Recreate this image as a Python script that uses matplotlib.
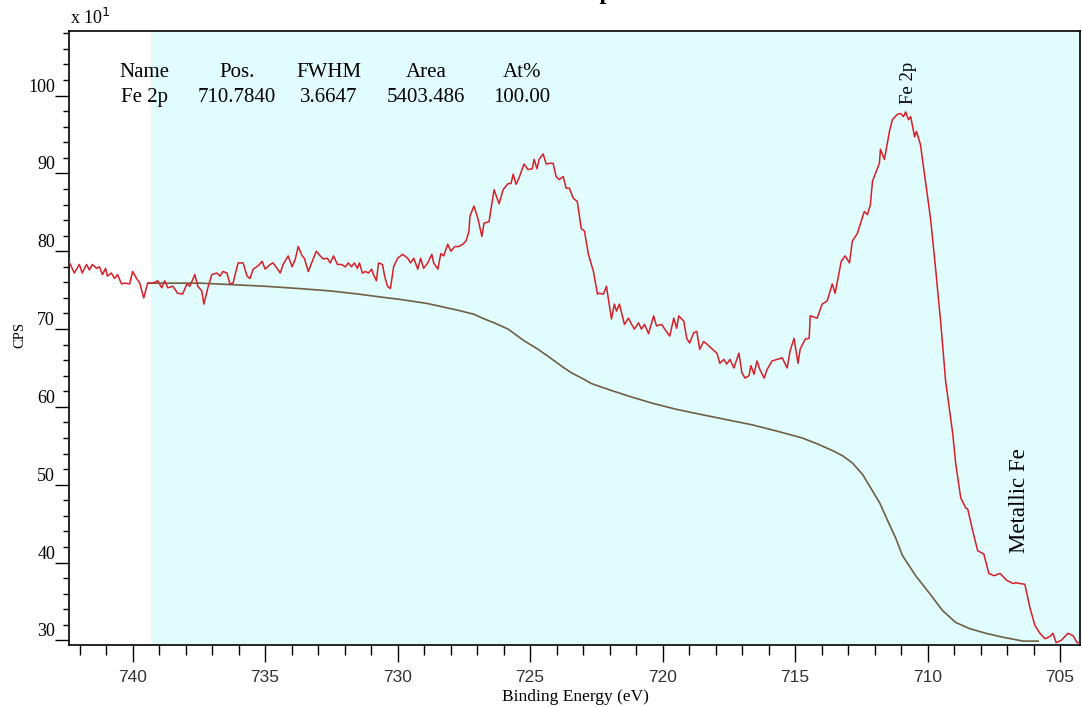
import numpy as np
import matplotlib
matplotlib.use("Agg")
import matplotlib.pyplot as plt
from matplotlib.ticker import MultipleLocator

plt.rcParams['font.family'] = ['Liberation Serif', 'DejaVu Serif']

# Fe 2p spectrum (binding energy in eV, counts in units of 10 CPS)
be = [742.39, 742.20, 742.01, 741.90, 741.74, 741.63, 741.52, 741.36, 741.25, 741.14,
      741.02, 740.95, 740.80, 740.68, 740.57, 740.42, 740.30, 740.11, 740.00, 739.85,
      739.73, 739.58, 739.43, 739.24, 739.05, 738.90, 738.79, 738.67, 738.48, 738.30,
      738.11, 737.95, 737.84, 737.65, 737.54, 737.39, 737.31, 737.16, 737.01, 736.82,
      736.70, 736.59, 736.44, 736.33, 736.21, 736.02, 735.83, 735.68, 735.57, 735.45,
      735.27, 735.11, 735.00, 734.81, 734.70, 734.55, 734.43, 734.32, 734.13, 733.98,
      733.86, 733.75, 733.60, 733.52, 733.37, 733.22, 733.07, 732.92, 732.80, 732.65,
      732.54, 732.42, 732.27, 732.12, 731.97, 731.86, 731.74, 731.63, 731.52, 731.44,
      731.33, 731.21, 731.10, 730.98, 730.91, 730.80, 730.72, 730.57, 730.49, 730.38,
      730.27, 730.15, 730.00, 729.81, 729.62, 729.51, 729.39, 729.24, 729.13, 729.02,
      728.86, 728.71, 728.64, 728.48, 728.37, 728.26, 728.11, 727.99, 727.84, 727.69,
      727.54, 727.42, 727.31, 727.27, 727.12, 726.97, 726.82, 726.74, 726.55, 726.36,
      726.17, 726.02, 725.83, 725.72, 725.64, 725.53, 725.42, 725.23, 725.08, 724.92,
      724.85, 724.74, 724.66, 724.51, 724.39, 724.28, 724.13, 724.02, 723.90, 723.75,
      723.64, 723.52, 723.37, 723.22, 723.07, 722.95, 722.80, 722.61, 722.46, 722.42,
      722.23, 722.12, 721.93, 721.82, 721.74, 721.63, 721.44, 721.29, 721.17, 721.06,
      720.91, 720.80, 720.68, 720.53, 720.34, 720.23, 720.04, 719.92, 719.73, 719.58,
      719.47, 719.39, 719.20, 719.09, 718.98, 718.83, 718.71, 718.60, 718.45, 718.34,
      718.15, 717.95, 717.84, 717.69, 717.58, 717.46, 717.31, 717.12, 717.01, 716.89,
      716.74, 716.67, 716.55, 716.44, 716.33, 716.17, 716.06, 715.87, 715.68, 715.49,
      715.30, 715.19, 715.04, 714.89, 714.81, 714.62, 714.47, 714.43, 714.17, 713.98,
      713.79, 713.60, 713.49, 713.26, 713.11, 712.95, 712.84, 712.65, 712.39, 712.27,
      712.16, 712.08, 711.82, 711.78, 711.63, 711.44, 711.33, 711.14, 711.02, 710.91,
      710.83, 710.72, 710.64, 710.49, 710.42, 710.27, 710.08, 709.89, 709.70, 709.51,
      709.32, 709.05, 708.94, 708.75, 708.56, 708.49, 708.30, 708.11, 707.88, 707.69,
      707.50, 707.27, 707.01, 706.78, 706.67, 706.52, 706.33, 706.14, 705.95, 705.76,
      705.57, 705.38, 705.27, 705.15, 704.96, 704.70, 704.51, 704.36, 704.24]
cps = [78.6, 77.2, 78.3, 77.2, 78.3, 77.6, 78.3, 77.8, 78.0, 77.0,
       77.8, 76.8, 77.2, 76.5, 77.0, 75.8, 75.9, 75.8, 77.4, 76.5,
       75.9, 74.0, 75.9, 75.9, 76.2, 75.3, 76.2, 75.3, 75.5, 74.6,
       74.5, 75.8, 75.5, 77.0, 75.5, 74.9, 73.2, 75.3, 77.0, 77.2,
       76.8, 77.4, 77.2, 75.8, 75.9, 78.5, 78.5, 76.8, 76.5, 77.7,
       78.1, 78.7, 77.7, 78.3, 78.5, 77.8, 77.2, 78.3, 79.4, 78.0,
       79.0, 80.6, 79.4, 79.1, 77.4, 78.7, 80.0, 79.4, 79.0, 79.1,
       78.5, 79.4, 78.3, 78.3, 78.0, 78.5, 78.0, 78.5, 77.8, 78.5,
       77.2, 77.4, 77.2, 77.7, 77.0, 76.2, 78.5, 78.3, 76.8, 75.5,
       75.2, 78.0, 79.1, 79.6, 79.1, 78.5, 79.1, 77.7, 79.1, 77.8,
       78.5, 79.6, 78.5, 77.7, 79.7, 79.4, 80.9, 80.0, 80.6, 80.6,
       80.9, 81.3, 82.5, 84.5, 85.8, 84.2, 81.9, 83.6, 83.8, 87.9,
       86.1, 87.9, 88.7, 88.7, 89.9, 88.6, 89.4, 91.2, 90.5, 90.6,
       91.8, 90.6, 91.8, 92.5, 91.2, 91.3, 91.3, 89.6, 89.2, 89.6,
       88.1, 88.1, 86.8, 86.4, 82.9, 82.6, 79.6, 77.4, 74.5, 74.6,
       74.5, 75.5, 71.3, 73.2, 72.3, 73.2, 70.6, 71.4, 70.6, 70.0,
       70.8, 70.0, 70.6, 69.4, 71.7, 70.4, 70.6, 70.0, 69.1, 71.4,
       70.1, 71.7, 71.0, 68.8, 68.2, 69.5, 69.7, 67.4, 68.4, 68.1,
       67.5, 66.9, 65.6, 66.1, 65.5, 66.1, 65.0, 66.9, 64.4, 63.7,
       64.0, 65.3, 64.2, 65.9, 64.8, 63.7, 64.8, 65.9, 66.1, 66.3,
       65.0, 67.2, 68.8, 65.6, 67.4, 68.7, 68.8, 71.7, 71.4, 73.2,
       73.6, 75.8, 74.6, 78.7, 79.4, 78.5, 81.3, 82.3, 85.1, 84.7,
       86.0, 89.0, 91.3, 93.1, 91.8, 95.4, 96.9, 97.6, 97.7, 97.3,
       97.9, 96.9, 97.3, 94.7, 95.4, 93.7, 89.0, 84.2, 77.8, 71.0,
       63.3, 56.5, 52.7, 48.3, 47.0, 46.9, 44.1, 41.5, 41.1, 38.6,
       38.3, 38.6, 37.7, 37.3, 37.4, 37.3, 37.2, 34.2, 31.9, 30.9,
       30.2, 30.5, 30.9, 29.7, 30.0, 30.9, 30.6, 29.7, 29.7]

# Shirley-type background under the peak
bg_be = [739.43, 737.46, 735.00, 733.70, 732.54, 731.50, 730.60, 729.89, 728.90, 728.37,
         727.70, 727.12, 726.80, 726.36, 725.83, 725.23, 724.70, 724.20, 723.80, 723.45,
         723.00, 722.69, 721.93, 721.20, 720.42, 719.50, 718.52, 717.50, 716.63, 715.70,
         714.73, 714.20, 713.60, 713.20, 712.84, 712.45, 712.08, 711.80, 711.51, 711.20,
         710.95, 710.45, 709.92, 709.43, 708.94, 708.41, 707.80, 707.16, 706.40, 705.83]
bg_cps = [75.9, 75.9, 75.5, 75.2, 74.9, 74.5, 74.1, 73.8, 73.3, 72.9,
          72.4, 71.9, 71.4, 70.8, 70.0, 68.5, 67.4, 66.2, 65.2, 64.4,
          63.6, 63.0, 62.1, 61.3, 60.5, 59.7, 59.0, 58.3, 57.7, 56.9,
          56.0, 55.3, 54.4, 53.7, 52.8, 51.3, 49.2, 47.6, 45.4, 43.1,
          40.9, 38.3, 36.0, 33.8, 32.3, 31.5, 30.9, 30.4, 29.9, 29.9]

# quantification table
table_head = ["Name", "Pos.", "FWHM", "Area", "At%"]
table_row = ["Fe 2p", "710.7840", "3.6647", "5403.486", "100.00"]
region_start = 739.32

fig = plt.figure(figsize=(10.82, 7.07), dpi=100)
ax = fig.add_axes([69 / 1082, 1 - 645 / 707, 1011 / 1082, 614 / 707])

ax.axvspan(region_start, 704.0, color='#e1fcfc', lw=0, zorder=0)
ax.plot(bg_be, bg_cps, color='#6e5f45', lw=1.2, zorder=2)
ax.plot(be, cps, color='#d81e28', lw=1.1, zorder=3)

ax.set_xlim(742.4, 704.25)
ax.set_ylim(29.4, 108.3)

ax.xaxis.set_major_locator(MultipleLocator(5))
ax.xaxis.set_minor_locator(MultipleLocator(1))
ax.yaxis.set_major_locator(MultipleLocator(10))
ax.yaxis.set_minor_locator(MultipleLocator(2))
ax.tick_params(axis='x', which='major', length=12, width=1, pad=6)
ax.tick_params(axis='x', which='minor', length=7, width=1)
ax.tick_params(axis='y', which='major', length=10, width=1, pad=0)
ax.tick_params(axis='y', which='minor', length=4, width=1)
for t in ax.get_xticklabels():
    t.set_family(['Liberation Sans', 'DejaVu Sans'])
    t.set_fontsize(12.5)
    t.set_color('#333333')
for t in ax.get_yticklabels():
    t.set_fontsize(13)
    t.set_va('bottom')
for s in ax.spines.values():
    s.set_linewidth(1.2)

for i in range(len(table_head)):
    xf = [0.075, 0.166, 0.257, 0.353, 0.448][i]
    ax.text(xf, 0.932, table_head[i], transform=ax.transAxes, ha='center', va='center', fontsize=15)
    ax.text(xf, 0.892, table_row[i], transform=ax.transAxes, ha='center', va='center', fontsize=15)

ax.text(710.72, 98.9, "Fe 2p", rotation=90, ha='center', va='bottom', fontsize=13.5)
ax.text(706.52, 48.0, "Metallic Fe", rotation=90, ha='center', va='center', fontsize=16.5)

fig.text(70 / 1082, 1 - 18 / 707, r"x 10$^{1}$", ha='left', va='center', fontsize=13)
fig.text(20 / 1082, 1 - 335 / 707, "CPS", rotation=90, ha='center', va='center', fontsize=10.5)
fig.text(575 / 1082, 1 - 697 / 707, "Binding Energy (eV)", ha='center', va='center', fontsize=12.5)
fig.text(585 / 1082, 1.0008, "Fe 2p", ha='center', va='baseline', fontsize=17, fontweight='bold')

fig.savefig("out.png", dpi=100)
